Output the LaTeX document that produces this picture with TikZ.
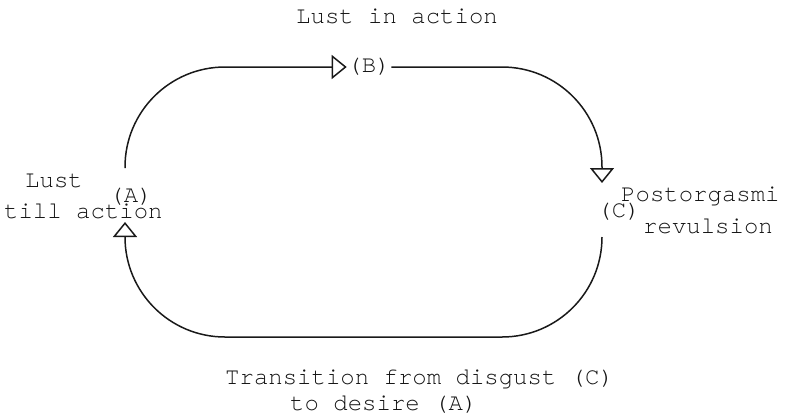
\documentclass[tikz,border=0pt]{standalone}
\usepackage{fontspec}
\newfontfamily\courfont{TeX Gyre Cursor}
\usetikzlibrary{arrows.meta}
\begin{document}
\begin{tikzpicture}[x=1pt,y=-1pt,
  flow/.style={line width=1.5pt, draw=black!90, rounded corners=100pt},
  tipopen/.style={-{Triangle[open,length=15pt,width=24pt,line width=1.5pt]}},
  lbl/.style={font=\courfont\fontsize{24}{28}\selectfont, inner sep=0.5pt, text=black!92},
  caption/.style={lbl, inner sep=0pt, anchor=base west}]
\useasboundingbox (0,0) rectangle (786,413);
% state labels
\node[lbl] (A) at (131,197) {(A)};
\node[lbl] (B) at (369,67) {(B)};
\node[lbl] (C) at (619,212) {(C)};
% connector ends
\coordinate (a1) at (125,168);
\coordinate (a2) at (125,222);
\coordinate (c1) at (602,183);
\coordinate (c2) at (602,237);
\coordinate (bot) at (363,337);
% connectors
\draw[flow,tipopen] (a1) |- (B.west);
\draw[flow,tipopen] (B.east) -| (c1);
\draw[flow,tipopen] (c2) |- (bot) -| (a2);
% captions
\node[caption] (t1) at (296,23) {Lust in action};
\node[caption] (l1) at (25,187) {Lust};
\node[caption] (l2) at (4,218) {till action};
\node[caption] (r1) at (621,201) {Postorgasmi};
\node[caption] (r2) at (643,233) {revulsion};
\node[caption] (b1) at (225,384) {Transition from disgust (C)};
\node[caption] (b2) at (290,410) {to desire (A)};
\end{tikzpicture}
\end{document}
